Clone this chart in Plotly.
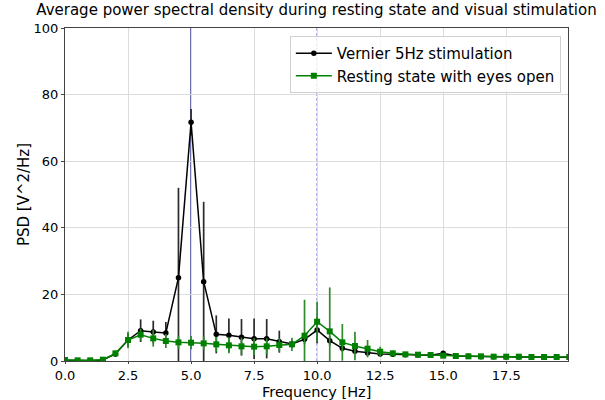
import plotly.graph_objects as go

freqs = [i * 0.5 for i in range(41)]

vernier_psd = [0.2, 0.1, 0.1, 0.3, 2.1, 6.3, 9.1, 8.7, 8.4, 25.0,
               71.7, 23.8, 8.0, 7.7, 7.1, 6.7, 6.7, 5.8, 5.1, 6.5,
               9.3, 6.1, 3.8, 2.9, 2.4, 2.1, 2.0, 1.9, 1.8, 1.7,
               2.3, 1.5, 1.4, 1.3, 1.3, 1.2, 1.2, 1.2, 1.1, 1.1, 1.1]
vernier_err = [0.2, 0.1, 0.1, 0.3, 0.8, 2.0, 3.4, 3.4, 3.3, 27.0,
               4.0, 24.0, 5.7, 5.1, 5.5, 6.1, 5.9, 3.3, 1.2, 1.5,
               4.0, 1.5, 1.0, 0.8, 0.6, 0.5, 0.4, 0.4, 0.4, 0.4,
               0.6, 0.4, 0.3, 0.3, 0.3, 0.3, 0.3, 0.3, 0.3, 0.3, 0.3]

rest_psd = [0.3, 0.2, 0.2, 0.4, 2.3, 6.3, 7.9, 6.8, 6.0, 5.6,
            5.5, 5.3, 5.0, 4.7, 4.4, 4.3, 4.4, 4.8, 5.0, 7.6,
            11.8, 8.9, 5.6, 4.5, 3.7, 2.8, 2.3, 2.0, 1.9, 1.8,
            1.6, 1.5, 1.4, 1.4, 1.3, 1.3, 1.3, 1.2, 1.2, 1.2, 1.2]
rest_err = [0.2, 0.2, 0.2, 0.2, 0.8, 2.5, 1.8, 2.5, 2.1, 2.0,
            2.0, 2.1, 2.2, 2.4, 2.6, 2.5, 2.4, 2.0, 2.0, 10.8,
            6.0, 13.2, 5.5, 4.3, 2.6, 1.5, 0.8, 0.4, 0.4, 0.4,
            0.4, 0.3, 0.3, 0.3, 0.3, 0.3, 0.3, 0.3, 0.3, 0.3, 0.3]

x_ticks = [0, 2.5, 5, 7.5, 10, 12.5, 15, 17.5]
y_ticks = [0, 20, 40, 60, 80, 100]

FONT = "DejaVu Sans"

fig = go.Figure()
fig.add_trace(go.Scatter(
    x=freqs, y=vernier_psd, mode="lines+markers",
    name="Vernier 5Hz stimulation",
    line=dict(color="black", width=1.5),
    marker=dict(color="black", size=5.5, symbol="circle"),
    error_y=dict(type="data", array=vernier_err, color="#2a2a2a",
                 thickness=1.7, width=0),
))
fig.add_trace(go.Scatter(
    x=freqs, y=rest_psd, mode="lines+markers",
    name="Resting state with eyes open",
    line=dict(color="#008000", width=1.5),
    marker=dict(color="#008000", size=6, symbol="square"),
    error_y=dict(type="data", array=rest_err, color="#2e8b2e",
                 thickness=1.7, width=0),
))

fig.add_shape(type="line", xref="x", yref="paper", x0=5, x1=5, y0=0, y1=1,
              line=dict(color="#2c2c8c", width=1.5), layer="below")
fig.add_shape(type="line", xref="x", yref="paper", x0=10, x1=10, y0=0, y1=1,
              line=dict(color="#3a3ad8", width=1, dash="3px,2px"), layer="below")

fig.add_annotation(text="Frequency [Hz]", xref="paper", yref="paper",
                   x=0.5, y=0, xanchor="center", yanchor="middle",
                   yshift=-31, showarrow=False, borderpad=0,
                   font=dict(family=FONT, size=14.5, color="black"))

fig.update_layout(
    width=605, height=400,
    margin=dict(l=65, r=37, t=28, b=39),
    paper_bgcolor="white", plot_bgcolor="white",
    font=dict(family=FONT, size=13, color="black"),
    title=dict(text="Average power spectral density during resting state and visual stimulation",
               x=0.5, xref="paper", xanchor="center",
               y=0.975, yref="container", yanchor="middle",
               font=dict(family=FONT, size=15, color="black")),
    showlegend=True,
    legend=dict(x=0.447, y=0.976, xanchor="left", yanchor="top",
                bgcolor="rgba(255,255,255,0.8)", bordercolor="#d0d0d0",
                borderwidth=1, font=dict(family=FONT, size=15),
                itemwidth=36, tracegroupgap=0),
)
fig.update_xaxes(range=[0, 19.95], tickvals=x_ticks, tickformat=".1f",
                 showgrid=True, gridcolor="#dcdcdc", gridwidth=1,
                 showline=True, linecolor="#444444", linewidth=1, mirror=True,
                 ticks="outside", ticklen=2, tickcolor="#444444",
                 zeroline=False, tickfont=dict(size=13), automargin=False)
fig.update_yaxes(range=[0, 100], tickvals=y_ticks,
                 showgrid=True, gridcolor="#dcdcdc", gridwidth=1,
                 showline=True, linecolor="#444444", linewidth=1, mirror=True,
                 ticks="outside", ticklen=3, tickcolor="#444444",
                 zeroline=False, tickfont=dict(size=13), automargin=False,
                 title=dict(text="PSD [V^2/Hz]", font=dict(size=15), standoff=0))

fig.write_html("out.html", config={"displayModeBar": False},
               post_script="document.body.style.margin='0';")
